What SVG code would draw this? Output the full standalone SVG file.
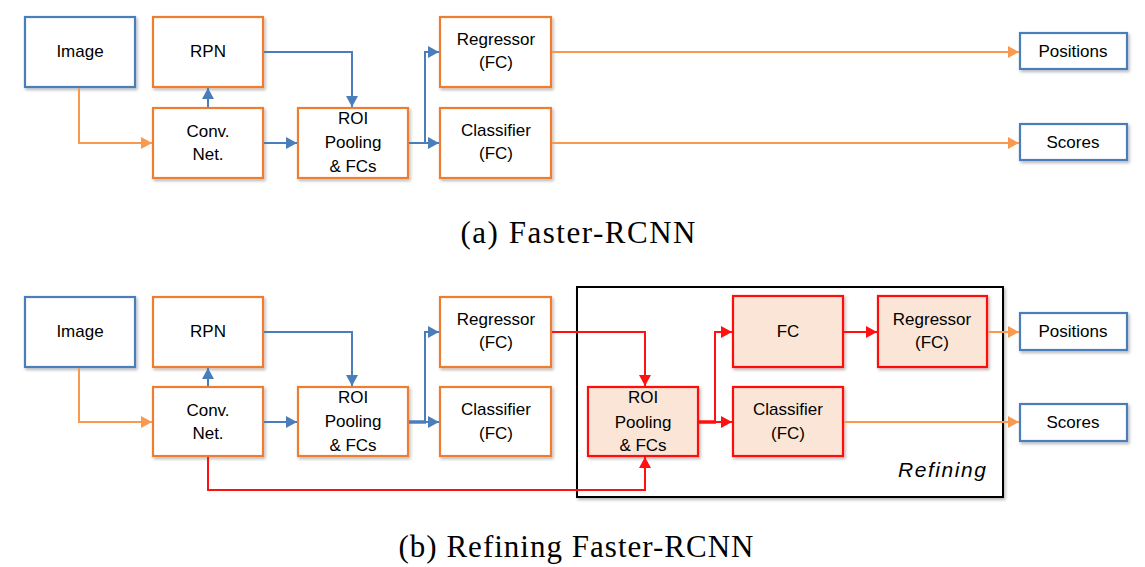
<svg xmlns="http://www.w3.org/2000/svg" width="1145" height="567" viewBox="0 0 1145 567">
<defs>
<filter id="sh" x="-10%" y="-10%" width="130%" height="140%">
<feDropShadow dx="1.5" dy="2" stdDeviation="1.5" flood-color="#000" flood-opacity="0.28"/>
</filter>
<marker id="ab" markerUnits="userSpaceOnUse" markerWidth="12" markerHeight="12" refX="11" refY="6" orient="auto"><path d="M0,0 L11,6 L0,12 z" fill="#4A7EBB"/></marker>
<marker id="ao" markerUnits="userSpaceOnUse" markerWidth="12" markerHeight="12" refX="11" refY="6" orient="auto"><path d="M0,0 L11,6 L0,12 z" fill="#F9984F"/></marker>
<marker id="ar" markerUnits="userSpaceOnUse" markerWidth="12" markerHeight="12" refX="11" refY="6" orient="auto"><path d="M0,0 L11,6 L0,12 z" fill="#FF1111"/></marker>
</defs>
<style>
.bx{fill:#fff;stroke:#ED7D31;stroke-width:2.2;filter:url(#sh)}
.bb{fill:#fff;stroke:#4A7EBB;stroke-width:2.2;filter:url(#sh)}
.br{fill:#FBE5D6;stroke:#FF1111;stroke-width:2.2;filter:url(#sh)}
.t{font-family:"Liberation Sans",Arial,sans-serif;font-size:17px;fill:#000;text-anchor:middle}
.cb{fill:none;stroke:#4A7EBB;stroke-width:2;marker-end:url(#ab)}
.co{fill:none;stroke:#F9984F;stroke-width:2;marker-end:url(#ao)}
.cr{fill:none;stroke:#FF1111;stroke-width:2;marker-end:url(#ar)}
.cap{font-family:"Liberation Serif","Times New Roman",serif;font-size:31px;fill:#000;text-anchor:middle}
</style>

<!-- (a) Faster-RCNN -->
<g id="a-image"><rect class="bb" x="25" y="17" width="110" height="70"/><text class="t" x="80" y="57">Image</text></g>
<g id="a-rpn"><rect class="bx" x="153" y="17" width="110" height="70"/><text class="t" x="208" y="57">RPN</text></g>
<g id="a-conv"><rect class="bx" x="153" y="108" width="110" height="70"/><text class="t" x="208" y="137">Conv.</text><text class="t" x="208" y="160">Net.</text></g>
<g id="a-roi"><rect class="bx" x="298" y="108" width="110" height="70"/><text class="t" x="353" y="124">ROI</text><text class="t" x="353" y="148">Pooling</text><text class="t" x="353" y="172">&amp; FCs</text></g>
<g id="a-reg"><rect class="bx" x="440" y="17" width="111" height="70"/><text class="t" x="496" y="45">Regressor</text><text class="t" x="496" y="68">(FC)</text></g>
<g id="a-cls"><rect class="bx" x="440" y="108" width="111" height="70"/><text class="t" x="496" y="136">Classifier</text><text class="t" x="496" y="159">(FC)</text></g>
<g id="a-pos"><rect class="bb" x="1020" y="33" width="107" height="36"/><text class="t" x="1073" y="57">Positions</text></g>
<g id="a-sco"><rect class="bb" x="1020" y="124" width="107" height="36"/><text class="t" x="1073" y="148">Scores</text></g>
<text class="cap" x="578" y="243" textLength="235" lengthAdjust="spacing">(a) Faster-RCNN</text>

<!-- (b) Refining Faster-RCNN -->
<g id="b-refining"><rect x="577" y="287" width="426" height="210" fill="#fff" stroke="#000" stroke-width="2" filter="url(#sh)"/><text x="986" y="477" font-family="Liberation Sans,Arial,sans-serif" font-size="21" font-style="italic" text-anchor="end" textLength="88" lengthAdjust="spacing">Refining</text></g>
<g id="b-image"><rect class="bb" x="25" y="297" width="110" height="70"/><text class="t" x="80" y="337">Image</text></g>
<g id="b-rpn"><rect class="bx" x="153" y="297" width="110" height="70"/><text class="t" x="208" y="337">RPN</text></g>
<g id="b-conv"><rect class="bx" x="153" y="387" width="110" height="69"/><text class="t" x="208" y="416">Conv.</text><text class="t" x="208" y="439">Net.</text></g>
<g id="b-roi"><rect class="bx" x="298" y="387" width="110" height="69"/><text class="t" x="353" y="403">ROI</text><text class="t" x="353" y="427">Pooling</text><text class="t" x="353" y="451">&amp; FCs</text></g>
<g id="b-reg"><rect class="bx" x="440" y="297" width="111" height="70"/><text class="t" x="496" y="325">Regressor</text><text class="t" x="496" y="348">(FC)</text></g>
<g id="b-cls"><rect class="bx" x="440" y="387" width="111" height="69"/><text class="t" x="496" y="415">Classifier</text><text class="t" x="496" y="439">(FC)</text></g>
<g id="b-roi2"><rect class="br" x="588" y="387" width="110" height="69"/><text class="t" x="643" y="403">ROI</text><text class="t" x="643" y="428">Pooling</text><text class="t" x="643" y="451">&amp; FCs</text></g>
<g id="b-fc"><rect class="br" x="733" y="296" width="110" height="71"/><text class="t" x="788" y="337">FC</text></g>
<g id="b-reg2"><rect class="br" x="878" y="296" width="109" height="71"/><text class="t" x="932" y="325">Regressor</text><text class="t" x="932" y="348">(FC)</text></g>
<g id="b-cls2"><rect class="br" x="733" y="387" width="110" height="69"/><text class="t" x="788" y="415">Classifier</text><text class="t" x="788" y="439">(FC)</text></g>
<g id="b-pos"><rect class="bb" x="1020" y="313" width="107" height="37"/><text class="t" x="1073" y="337">Positions</text></g>
<g id="b-sco"><rect class="bb" x="1020" y="404" width="107" height="37"/><text class="t" x="1073" y="428">Scores</text></g>
<text class="cap" x="576" y="557" textLength="355" lengthAdjust="spacing">(b) Refining Faster-RCNN</text>

<g id="connectors">
<!-- (a) -->
<path class="co" d="M79,88 V143 H152"/>
<path class="cb" d="M208,107 V88"/>
<path class="cb" d="M264,52 H352 V107"/>
<path class="cb" d="M264,143 H297"/>
<path class="cb" d="M409,143 H439"/>
<path class="cb" d="M425,143 V52 H439"/>
<path class="co" d="M552,52 H1019"/>
<path class="co" d="M552,143 H1019"/>
<!-- (b) -->
<path class="co" d="M79,368 V422 H152"/>
<path class="cb" d="M208,386 V368"/>
<path class="cb" d="M264,332 H352 V386"/>
<path class="cb" d="M264,422 H297"/>
<path d="M409,422 H426" fill="none" stroke="#4A7EBB" stroke-width="3.5"/>
<path class="cb" d="M409,422 H439"/>
<path class="cb" d="M425,422 V332 H439"/>
<path class="cr" d="M552,332 H645 V386"/>
<path class="cr" d="M208,457 V490 H645 V457"/>
<path d="M699,422 H716" fill="none" stroke="#FF1111" stroke-width="3.5"/>
<path class="cr" d="M699,422 H732"/>
<path class="cr" d="M715,422 V332 H732"/>
<path class="cr" d="M844,332 H877"/>
<path class="co" d="M988,332 H1019"/>
<path class="co" d="M844,422 H1019"/>
</g>
</svg>
